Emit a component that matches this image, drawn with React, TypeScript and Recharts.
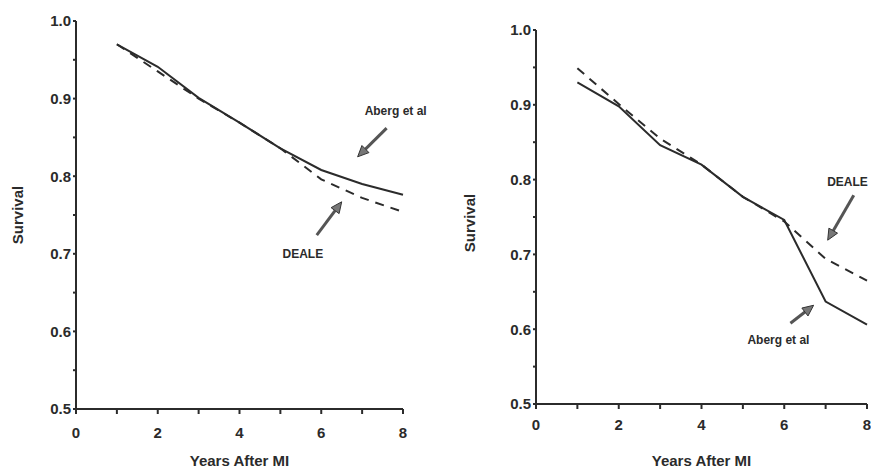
import React from 'react';
import {
  LineChart, Line, XAxis, YAxis, ReferenceLine, ReferenceDot, Label,
} from 'recharts';

const years = [1, 2, 3, 4, 5, 6, 7, 8];

// left panel
const leftAberg = [0.970, 0.941, 0.901, 0.869, 0.836, 0.808, 0.790, 0.776];
const leftDeale = [0.970, 0.935, 0.900, 0.869, 0.836, 0.796, 0.772, 0.754];

// right panel
const rightAberg = [0.930, 0.898, 0.846, 0.820, 0.777, 0.746, 0.637, 0.606];
const rightDeale = [0.949, 0.901, 0.855, 0.820, 0.777, 0.744, 0.694, 0.665];

const xTicks = [0, 1, 2, 3, 4, 5, 6, 7, 8];
const yTicks = [0.5, 0.55, 0.6, 0.65, 0.7, 0.75, 0.8, 0.85, 0.9, 0.95, 1.0];

// annotation arrows: [fromX, fromY, toX, toY] in data units
const leftAbergArrow = [7.6, 0.862, 6.89, 0.825];
const leftDealeArrow = [5.89, 0.724, 6.5, 0.767];
const rightDealeArrow = [7.68, 0.779, 7.05, 0.719];
const rightAbergArrow = [6.15, 0.608, 6.71, 0.632];

const ink = '#2b2b2b';
const font = '"Liberation Sans Narrow", "Liberation Sans", Arial, sans-serif';

const toRows = (a: number[], d: number[]) =>
  years.map((y, i) => ({ year: y, aberg: a[i], deale: d[i] }));

const xFmt = (v: number) => (v % 2 === 0 ? String(v) : '');
const yFmt = (v: number) => (Math.round(v * 100) % 10 === 0 ? v.toFixed(1) : '');

const Arrow = (props: any) => {
  const { x1, y1, x2, y2 } = props;
  if (x1 == null) return null;
  const ang = Math.atan2(y2 - y1, x2 - x1);
  const len = 11;
  const w = 5;
  const bx = x2 - len * Math.cos(ang);
  const by = y2 - len * Math.sin(ang);
  const px = -Math.sin(ang) * w;
  const py = Math.cos(ang) * w;
  return (
    <g>
      <line x1={x1} y1={y1} x2={bx} y2={by} stroke="#555" strokeWidth={3} />
      <polygon
        points={`${x2},${y2} ${bx + px},${by + py} ${bx - px},${by - py}`}
        fill="#777"
        stroke="#333"
        strokeWidth={1}
      />
    </g>
  );
};

const arrowSeg = (a: number[]) => [{ x: a[0], y: a[1] }, { x: a[2], y: a[3] }];

const tickStyle = { fontSize: 15, fontWeight: 700, fill: ink, fontFamily: font };

interface PanelProps {
  aberg: number[];
  deale: number[];
  width: number;
  height: number;
  margin: { top: number; right: number; left: number; bottom: number };
  xTickGap: number;
  xLabelOffset: number;
  yLabelOffset: number;
  yLabelShift: number;
  children?: React.ReactNode;
}

const Panel: React.FC<PanelProps> = ({
  aberg, deale, width, height, margin, xTickGap, xLabelOffset, yLabelOffset, yLabelShift, children,
}) => (
  <LineChart width={width} height={height} data={toRows(aberg, deale)} margin={margin}>
    <XAxis
      dataKey="year"
      type="number"
      domain={[0, 8]}
      ticks={xTicks}
      tickFormatter={xFmt}
      tick={tickStyle}
      tickSize={5}
      tickMargin={xTickGap}
      stroke={ink}
      strokeWidth={2}
      height={30}
    >
      <Label
        value="Years After MI"
        position="bottom"
        offset={xLabelOffset}
        style={{ fontSize: 15, fontWeight: 700, fill: ink, fontFamily: font }}
      />
    </XAxis>
    <YAxis
      type="number"
      domain={[0.5, 1.0]}
      ticks={yTicks}
      tickFormatter={yFmt}
      tick={tickStyle}
      tickSize={3}
      stroke={ink}
      strokeWidth={2}
      width={40}
    >
      <Label
        value="Survival"
        angle={-90}
        position="insideLeft"
        offset={yLabelOffset}
        dy={yLabelShift}
        style={{ fontSize: 15, fontWeight: 700, fill: ink, fontFamily: font, textAnchor: 'middle' }}
      />
    </YAxis>
    <Line
      dataKey="aberg"
      stroke={ink}
      strokeWidth={2}
      dot={false}
      isAnimationActive={false}
    />
    <Line
      dataKey="deale"
      stroke={ink}
      strokeWidth={2}
      strokeDasharray="9 7"
      dot={false}
      isAnimationActive={false}
    />
    {children}
  </LineChart>
);

const noteStyle = { fontSize: 12, fontWeight: 700, fill: ink, fontFamily: font };

export default function App() {
  return (
    <div style={{ position: 'absolute', left: 0, top: 0, width: 871, height: 473, background: '#fff' }}>
      <div style={{ position: 'absolute', left: 0, top: 0 }}>
        <Panel
          aberg={leftAberg}
          deale={leftDeale}
          width={440}
          height={473}
          margin={{ top: 21, right: 37, left: 36, bottom: 34 }}
          xTickGap={13}
          xLabelOffset={16}
          yLabelOffset={-18}
          yLabelShift={0}
        >
          <ReferenceLine segment={arrowSeg(leftAbergArrow)} shape={Arrow} ifOverflow="visible" />
          <ReferenceLine segment={arrowSeg(leftDealeArrow)} shape={Arrow} ifOverflow="visible" />
          <ReferenceDot x={7.82} y={0.885} r={0} fill="none" stroke="none" ifOverflow="visible"
            label={{ value: 'Aberg et al', position: 'center', style: noteStyle }} />
          <ReferenceDot x={5.55} y={0.7} r={0} fill="none" stroke="none" ifOverflow="visible"
            label={{ value: 'DEALE', position: 'center', style: noteStyle }} />
        </Panel>
      </div>
      <div style={{ position: 'absolute', left: 440, top: 0 }}>
        <Panel
          aberg={rightAberg}
          deale={rightDeale}
          width={431}
          height={473}
          margin={{ top: 30, right: 4, left: 56, bottom: 39 }}
          xTickGap={10}
          xLabelOffset={21}
          yLabelOffset={-26}
          yLabelShift={6}
        >
          <ReferenceLine segment={arrowSeg(rightDealeArrow)} shape={Arrow} ifOverflow="visible" />
          <ReferenceLine segment={arrowSeg(rightAbergArrow)} shape={Arrow} ifOverflow="visible" />
          <ReferenceDot x={7.53} y={0.797} r={0} fill="none" stroke="none" ifOverflow="visible"
            label={{ value: 'DEALE', position: 'center', style: noteStyle }} />
          <ReferenceDot x={5.86} y={0.586} r={0} fill="none" stroke="none" ifOverflow="visible"
            label={{ value: 'Aberg et al', position: 'center', style: noteStyle }} />
        </Panel>
      </div>
    </div>
  );
}
